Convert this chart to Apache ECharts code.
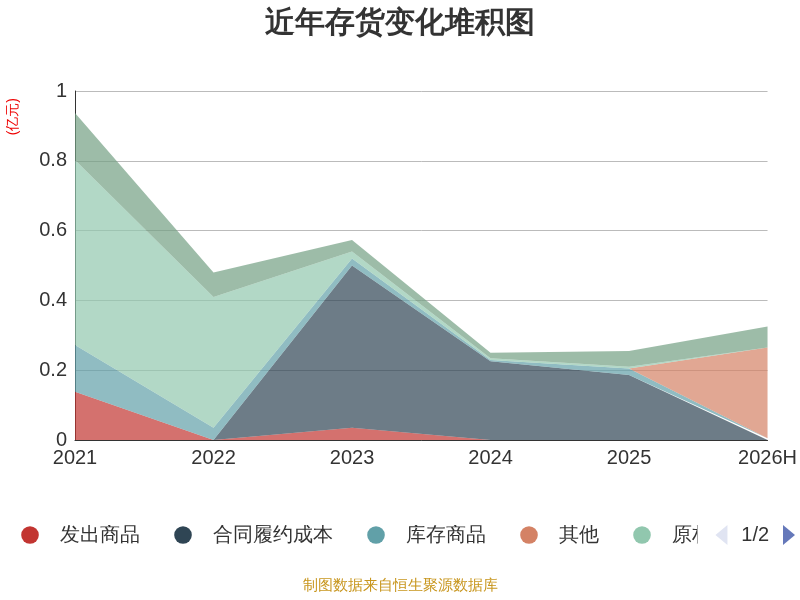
<!DOCTYPE html>
<html><head><meta charset="utf-8">
<script src="https://cdn.jsdelivr.net/npm/echarts@6/dist/echarts.min.js"></script>
<style>html,body{margin:0;padding:0}#c{width:800px;height:600px}</style>
</head><body><div id="c"></div>
<script>
const categories = ['2021','2022','2023','2024','2025','2026H'];
const faChu = [0.138, 0, 0.035, 0, 0, 0];
const heTong = [0, 0, 0.465, 0.226, 0.186, 0];
const kuCun = [0.134, 0.035, 0.02, 0.003, 0.019, 0.005];
const qiTa = [0, 0, 0, 0, 0, 0.26];
const yuanCai = [0.53, 0.375, 0.02, 0.005, 0.005, 0];
const zhouZhuan = [0.135, 0.07, 0.033, 0.016, 0.045, 0.06];
const names = ['发出商品','合同履约成本','库存商品','其他','原材料','周转材料'];
const colors = ['#c23531','#2f4554','#61a0a8','#d48265','#91c7ae','#749f83'];
const data = [faChu, heTong, kuCun, qiTa, yuanCai, zhouZhuan];
const chart = echarts.init(document.getElementById('c'));
chart.setOption({
  color: colors,
  title: {text:'近年存货变化堆积图', left:'center', top:4, textStyle:{fontSize:30, fontWeight:'bold', color:'#333'}},
  grid: {left:75, right:32, top:91, bottom:160},
  legend: {type:'scroll', bottom:50, left:0, right:0, itemWidth:50, itemHeight:22, itemGap:18,
    textStyle:{fontSize:20, color:'#333'}, pageIconSize:20, pageTextStyle:{fontSize:20,color:'#333'}},
  xAxis: {type:'category', boundaryGap:false, data:categories,
    axisLine:{lineStyle:{color:'#333'}}, axisTick:{show:false},
    axisLabel:{fontSize:20, color:'#333'}},
  yAxis: {type:'value', min:0, max:1, interval:0.2,
    axisLine:{show:true, lineStyle:{color:'#333'}}, axisTick:{show:false},
    axisLabel:{fontSize:20, color:'#333'},
    splitLine:{lineStyle:{color:'#bbb'}}},
  graphic: [
    {type:'text', left:6, top:98, rotation:Math.PI/2, style:{text:'(亿元)', fill:'#e00', fontSize:14}},
    {type:'text', left:'center', top:578, style:{text:'制图数据来自恒生聚源数据库', fill:'#c8961e', fontSize:15}}
  ],
  series: names.map((n,i)=>({name:n, type:'line', stack:'a', data:data[i], symbol:'none',
    lineStyle:{width:0}, areaStyle:{opacity:0.7}}))
});
</script></body></html>
